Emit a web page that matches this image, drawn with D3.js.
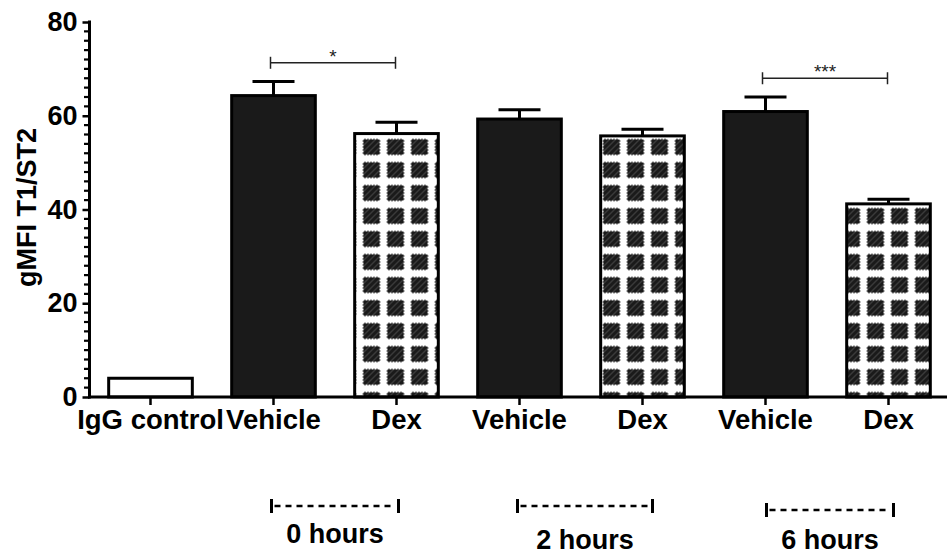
<!DOCTYPE html>
<html>
<head>
<meta charset="utf-8">
<script src="https://cdn.jsdelivr.net/npm/d3@7"></script>
<style>
  html, body { margin: 0; padding: 0; background: #fff; }
  svg { display: block; font-family: "Liberation Sans", Arial, sans-serif; }
</style>
</head>
<body>
<svg id="chart" width="947" height="555"></svg>
<script>
// Bar categories and their fill style
const categories = ["IgG control", "Vehicle", "Dex", "Vehicle", "Dex", "Vehicle", "Dex"];
const fillKinds  = ["open", "solid", "pattern", "solid", "pattern", "solid", "pattern"];
// Mean gMFI and SEM for each bar
const means = [4.0, 64.3, 56.2, 59.3, 55.7, 60.9, 41.2];
const sems  = [0.0, 3.0, 2.4, 2.0, 1.4, 3.1, 1.0];
// Y axis
const yMajorTicks = [0, 20, 40, 60, 80];
const yLabel = "gMFI T1/ST2";
// Time-point groups (first and last bar index)
const groupLabels = ["0 hours", "2 hours", "6 hours"];
const groupFrom   = [1, 3, 5];
const groupTo     = [2, 4, 6];
// Significance comparisons
const sigFrom  = [1, 5];
const sigTo    = [2, 6];
const sigStars = ["*", "***"];

const svg = d3.select("#chart");
const dark = "#1a1a1a";
const font = "Liberation Sans, Arial, sans-serif";

const x = d3.scaleBand()
  .domain(d3.range(categories.length))
  .range([89, 950])
  .paddingInner(0.32)
  .paddingOuter(0.16);
const y = d3.scaleLinear().domain([0, 80]).range([397, 22]);
const cx = i => x(i) + x.bandwidth() / 2;

// Checkered fill for the Dex bars: hatched dark squares with ragged edges
const defs = svg.append("defs");
const pat = defs.append("pattern")
  .attr("id", "dexFill")
  .attr("patternUnits", "userSpaceOnUse")
  .attr("x", 2.5).attr("y", 0.5)
  .attr("width", 24).attr("height", 23);
pat.append("rect").attr("width", 24).attr("height", 23).attr("fill", "#fff");
pat.append("rect").attr("x", 1).attr("y", 1).attr("width", 16).attr("height", 15).attr("fill", dark);
pat.append("path")
  .attr("d", "M1,7 L7,1 M1,13 L13,1 M4,16 L17,3 M10,16 L17,9")
  .attr("stroke", "#5a5a5a").attr("stroke-width", 1).attr("fill", "none");
// ragged edge teeth
const teeth = [];
for (let t = 2; t <= 15; t += 3) {
  teeth.push([t, 0], [t, 16], [0, t], [17, t]);
}
pat.selectAll("rect.tooth").data(teeth).join("rect")
  .attr("class", "tooth")
  .attr("x", d => d[0]).attr("y", d => d[1])
  .attr("width", 1).attr("height", 1).attr("fill", dark);

// Y axis with minor ticks every 2 units
const yAxis = d3.axisLeft(y).tickValues(yMajorTicks).tickSize(7).tickPadding(5).tickFormat(d3.format("d"));
const gy = svg.append("g").attr("transform", "translate(89.5,0)").call(yAxis);
gy.select(".domain").remove();
gy.selectAll(".tick line").attr("stroke", "#000").attr("stroke-width", 2.5);
gy.selectAll(".tick text")
  .attr("fill", "#000").attr("font-size", 27).attr("font-weight", "bold")
  .attr("font-family", font);
const minor = d3.range(0, 81, 2).filter(v => v % 20 !== 0);
svg.append("g").selectAll("line").data(minor).join("line")
  .attr("x1", 84).attr("x2", 89.5)
  .attr("y1", d => y(d)).attr("y2", d => y(d))
  .attr("stroke", "#000").attr("stroke-width", 2.2);
svg.append("line")
  .attr("x1", 89.5).attr("x2", 89.5).attr("y1", y(80) - 1.5).attr("y2", y(0) + 1.5)
  .attr("stroke", "#000").attr("stroke-width", 3);

// Y axis title
svg.append("text")
  .attr("transform", `translate(36,${(y(0) + y(80)) / 2 - 2}) rotate(-90)`)
  .attr("text-anchor", "middle")
  .attr("font-size", 27).attr("font-weight", "bold")
  .text(yLabel);

// Bars
svg.append("g").selectAll("rect").data(means).join("rect")
  .attr("x", (d, i) => x(i))
  .attr("width", x.bandwidth())
  .attr("y", d => y(d))
  .attr("height", d => y(0) - y(d))
  .attr("fill", (d, i) => fillKinds[i] === "solid" ? dark : fillKinds[i] === "pattern" ? "url(#dexFill)" : "#fff")
  .attr("stroke", "#000").attr("stroke-width", 3);

// Error bars (upper half)
const eb = svg.append("g").selectAll("g").data(means.map((m, i) => i).filter(i => sems[i] > 0)).join("g");
eb.append("line")
  .attr("x1", i => cx(i)).attr("x2", i => cx(i))
  .attr("y1", i => y(means[i])).attr("y2", i => y(means[i] + sems[i]))
  .attr("stroke", "#000").attr("stroke-width", 3);
eb.append("line")
  .attr("x1", i => cx(i) - 21).attr("x2", i => cx(i) + 21)
  .attr("y1", i => y(means[i] + sems[i])).attr("y2", i => y(means[i] + sems[i]))
  .attr("stroke", "#000").attr("stroke-width", 3);

// X axis
svg.append("line")
  .attr("x1", 88).attr("x2", 947).attr("y1", y(0)).attr("y2", y(0))
  .attr("stroke", "#000").attr("stroke-width", 3);
const xAxis = d3.axisBottom(x).tickSize(8).tickPadding(4).tickFormat(i => categories[i]);
const gx = svg.append("g").attr("transform", `translate(0,${y(0)})`).call(xAxis);
gx.select(".domain").remove();
gx.selectAll(".tick line").attr("stroke", "#000").attr("stroke-width", 2.5);
gx.selectAll(".tick text")
  .attr("fill", "#000").attr("font-size", 27.5).attr("font-weight", "bold")
  .attr("font-family", font);

// Significance brackets
sigFrom.forEach((a, k) => {
  const b = sigTo[k];
  const top = Math.max(means[a] + sems[a], means[b] + sems[b]) + 4;
  const yy = y(top);
  const g = svg.append("g").attr("stroke", "#222").attr("stroke-width", 1.5);
  g.append("line").attr("x1", cx(a) - 3).attr("x2", cx(b) - 1).attr("y1", yy).attr("y2", yy);
  g.append("line").attr("x1", cx(a) - 3).attr("x2", cx(a) - 3).attr("y1", yy - 6).attr("y2", yy + 6);
  g.append("line").attr("x1", cx(b) - 1).attr("x2", cx(b) - 1).attr("y1", yy - 6).attr("y2", yy + 6);
  svg.append("text")
    .attr("x", (cx(a) + cx(b)) / 2 - 2).attr("y", yy)
    .attr("text-anchor", "middle").attr("font-size", 19).attr("fill", "#222")
    .text(sigStars[k]);
});

// Time-point group markers below the axis (hand-placed ends and heights)
const groupPadL  = [-2, -2, 1];
const groupPadR  = [2, 10, 5];
const groupLineY = [506, 506, 510];
const groupTextY = [543, 549, 549];
groupLabels.forEach((lab, k) => {
  const a = cx(groupFrom[k]) + groupPadL[k], b = cx(groupTo[k]) + groupPadR[k];
  const yy = groupLineY[k];
  const g = svg.append("g").attr("stroke", "#000");
  g.append("line").attr("x1", a + 3).attr("x2", b - 3).attr("y1", yy).attr("y2", yy)
    .attr("stroke-width", 2.5).attr("stroke-dasharray", "6,5");
  g.append("line").attr("x1", a).attr("x2", a).attr("y1", yy - 7).attr("y2", yy + 7).attr("stroke-width", 3);
  g.append("line").attr("x1", b).attr("x2", b).attr("y1", yy - 7).attr("y2", yy + 7).attr("stroke-width", 3);
  svg.append("text")
    .attr("x", (a + b) / 2).attr("y", groupTextY[k])
    .attr("text-anchor", "middle").attr("font-size", 27).attr("font-weight", "bold")
    .text(lab);
});
</script>
</body>
</html>
